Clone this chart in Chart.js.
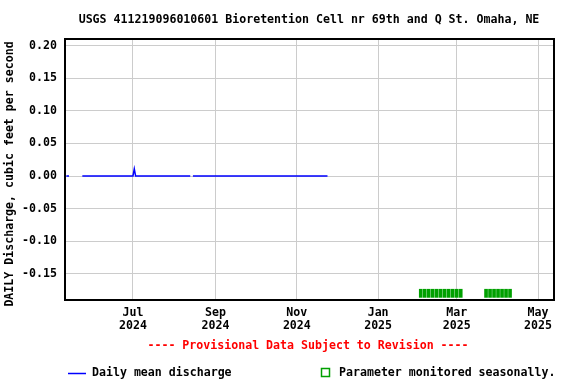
<!DOCTYPE html>
<html>
<head>
<meta charset="utf-8">
<script src="https://cdn.jsdelivr.net/npm/chart.js@4/dist/chart.umd.min.js"></script>
<style>
html,body{margin:0;padding:0;background:#fff;}
#wrap{width:576px;height:384px;position:relative;}
</style>
</head>
<body>
<div id="wrap"><canvas id="c" width="576" height="384"></canvas></div>
<script>
// ---- data ----
const flowDates = ['2024-05-12','2024-05-14','2024-05-18','2024-05-24','2024-07-01','2024-07-02','2024-07-03','2024-08-13','2024-08-14','2024-08-15','2024-11-24'];
const flowValues = [0, 0, null, 0, 0, 0.011, 0, 0, null, 0, 0];
const seasonalDates = ['2025-02-02','2025-02-05','2025-02-08','2025-02-11','2025-02-14','2025-02-17','2025-02-20','2025-02-23','2025-02-26','2025-03-01','2025-03-04',
  '2025-03-23','2025-03-26','2025-03-29','2025-04-01','2025-04-04','2025-04-07','2025-04-10'];
const xTickDates = ['2024-07-01','2024-09-01','2024-11-01','2025-01-01','2025-03-01','2025-05-01'];
const xTickLabels = [['Jul','2024'],['Sep','2024'],['Nov','2024'],['Jan','2025'],['Mar','2025'],['May','2025']];
const yTickValues = [-0.15,-0.10,-0.05,0.00,0.05,0.10,0.15,0.20];
const yTickLabels = ['-0.15','-0.10','-0.05','0.00','0.05','0.10','0.15','0.20'];
const titleText = 'USGS 411219096010601 Bioretention Cell nr 69th and Q St. Omaha, NE';
const yTitleText = 'DAILY Discharge, cubic feet per second';
const noteText = '---- Provisional Data Subject to Revision ----';
const legendLine = 'Daily mean discharge';
const legendSeason = 'Parameter monitored seasonally.';
const seasonalBand = [-0.186, -0.1735];

const day = s => Date.parse(s + 'T00:00:00Z') / 86400000;
const FONT = '"DejaVu Sans Mono", "Liberation Mono", monospace';
const FS = 11.6;

const flowData = flowDates.map((d, i) => ({x: day(d), y: flowValues[i]}));
const seasonData = seasonalDates.map(d => ({x: day(d), y: seasonalBand}));

const extras = {
  id: 'extras',
  afterDraw(chart) {
    const ctx = chart.ctx;
    const a = chart.chartArea;
    ctx.save();
    // frame
    ctx.strokeStyle = '#000';
    ctx.lineWidth = 2;
    ctx.strokeRect(a.left, a.top, a.right - a.left, a.bottom - a.top);
    ctx.font = 'bold ' + FS + 'px ' + FONT;
    ctx.fillStyle = '#000';
    ctx.textBaseline = 'middle';
    // title
    ctx.textAlign = 'center';
    ctx.fillText(titleText, 309, 20);
    // y title
    ctx.save();
    ctx.translate(10, 174);
    ctx.rotate(-Math.PI / 2);
    ctx.fillText(yTitleText, 0, 0);
    ctx.restore();
    // provisional note
    ctx.fillStyle = '#ff0000';
    ctx.fillText(noteText, 308, 346);
    // legend
    ctx.textAlign = 'left';
    ctx.fillStyle = '#000';
    ctx.strokeStyle = '#0000ff';
    ctx.lineWidth = 1.5;
    ctx.beginPath();
    ctx.moveTo(68, 373.5);
    ctx.lineTo(86, 373.5);
    ctx.stroke();
    ctx.fillText(legendLine, 92, 373);
    ctx.strokeStyle = '#00a000';
    ctx.lineWidth = 1.5;
    ctx.strokeRect(321.5, 368.5, 8, 8);
    ctx.fillText(legendSeason, 339, 373);
    ctx.restore();
  }
};

new Chart(document.getElementById('c'), {
  type: 'line',
  data: {
    datasets: [
      {
        type: 'bar',
        data: seasonData,
        backgroundColor: '#00a000',
        borderWidth: 0,
        barThickness: 3,
        grouped: false,
        order: 2
      },
      {
        type: 'line',
        data: flowData,
        borderColor: '#0000ff',
        borderWidth: 1.5,
        pointRadius: 0,
        spanGaps: false,
        tension: 0,
        fill: false,
        order: 1
      }
    ]
  },
  options: {
    responsive: false,
    animation: false,
    devicePixelRatio: 1,
    layout: {padding: {left: 0, right: 22, top: 39, bottom: 44}},
    plugins: {legend: {display: false}, tooltip: {enabled: false}, title: {display: false}},
    scales: {
      x: {
        type: 'linear',
        offset: false,
        min: day('2024-05-11'),
        max: day('2025-05-13'),
        afterBuildTicks: s => { s.ticks = xTickDates.map(d => ({value: day(d)})); },
        afterFit: s => { s.height = 40; },
        ticks: {
          autoSkip: false,
          maxRotation: 0,
          padding: 7,
          color: '#000',
          font: {family: FONT, size: FS, weight: 'bold', lineHeight: 1.1},
          callback: v => { const i = xTickDates.findIndex(d => day(d) === v); return i >= 0 ? xTickLabels[i] : ''; }
        },
        grid: {color: '#cccccc', lineWidth: 1, drawTicks: false, offset: false},
        border: {display: false}
      },
      y: {
        type: 'linear',
        min: -0.19,
        max: 0.21,
        afterBuildTicks: s => { s.ticks = yTickValues.map(v => ({value: v})); },
        afterFit: s => { s.width = 65; },
        ticks: {
          padding: 8,
          color: '#000',
          font: {family: FONT, size: FS, weight: 'bold'},
          callback: v => { const i = yTickValues.findIndex(t => Math.abs(t - v) < 1e-9); return i >= 0 ? yTickLabels[i] : ''; }
        },
        grid: {color: '#cccccc', lineWidth: 1, drawTicks: false},
        border: {display: false}
      }
    }
  },
  plugins: [extras]
});
</script>
</body>
</html>
